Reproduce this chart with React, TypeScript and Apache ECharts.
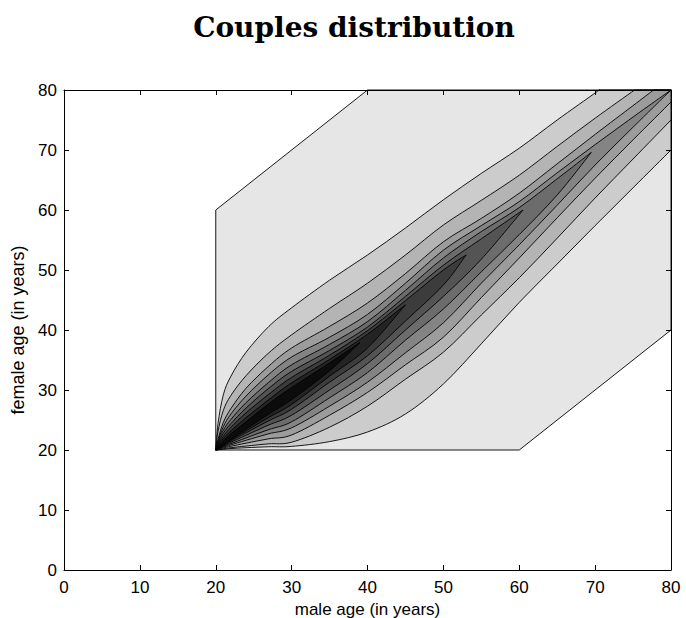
import React, { useEffect, useRef } from "react";
import * as echarts from "echarts";

const TITLE = "Couples distribution";
const X_NAME = "male age (in years)";
const Y_NAME = "female age (in years)";
const AXIS_MIN = 0;
const AXIS_MAX = 80;
const AXIS_STEP = 10;

// domain (lowest level) polygon: [male, female]
const DOMAIN: number[][] = [[20, 20], [60, 20], [80, 40], [80, 80], [40, 80], [20, 60]];

// contour lines, upper branch (from the (20,20) corner outwards)
const UPPER: number[][][] = [
  [[20, 20], [20.3, 24.4], [21, 29.2], [22, 32.3], [24, 36.3], [27, 40.6], [30, 43.7], [35, 48.3], [40, 52.5], [45, 57.0], [50, 61.7], [55, 66.1], [60, 70.3], [65, 75.0], [70, 79.5], [70.5, 80]],
  [[20, 20], [20.3, 23.1], [21, 26.6], [22, 29.1], [24, 32.4], [27, 36.2], [30, 39.2], [35, 43.6], [40, 47.8], [45, 52.5], [50, 57.5], [55, 61.6], [60, 65.8], [65, 70.6], [70, 75.3], [75.2, 80]],
  [[20, 20], [20.3, 21.8], [21, 24.6], [22, 26.9], [24, 30.3], [27, 34.0], [30, 37.0], [35, 40.6], [40, 44.5], [45, 49.4], [50, 54.7], [55, 58.6], [60, 62.8], [65, 67.7], [70, 72.6], [75, 77.4], [77.7, 80]],
  [[20, 20], [20.3, 21.5], [21, 23.9], [22, 26.0], [24, 29.0], [27, 32.6], [30, 35.5], [35, 38.8], [40, 42.6], [45, 47.8], [50, 53.3], [55, 57.4], [60, 61.4], [65, 66.2], [70, 70.9], [75, 75.5], [80, 80]],
  [[20, 20], [20.3, 21.3], [21, 23.3], [22, 25.1], [24, 27.9], [27, 31.3], [30, 34.2], [35, 37.6], [40, 41.4], [45, 46.6], [50, 52.0], [55, 56.4], [60, 60.4], [65, 65.2], [69.5, 69.6]],
  [[20, 20], [20.3, 21.0], [21, 22.8], [22, 24.4], [24, 27.0], [27, 30.3], [30, 33.1], [35, 36.6], [40, 40.5], [45, 45.6], [50, 50.8], [55, 55.2], [60.5, 60.0]],
  [[20, 20], [20.3, 20.8], [21, 22.3], [22, 23.8], [24, 26.2], [27, 29.3], [30, 32.1], [35, 35.8], [40, 39.9], [45, 44.9], [50, 50.0], [53, 52.5]],
  [[20, 20], [20.3, 20.7], [21, 21.9], [22, 23.2], [24, 25.4], [27, 28.4], [30, 31.2], [35, 35.1], [40, 39.3], [45, 44.2]],
  [[20, 20], [20.3, 20.5], [21, 21.5], [22, 22.7], [24, 24.7], [27, 27.7], [30, 30.4], [35, 34.5], [39, 37.9]],
];

// contour lines, lower branch (from the (20,20) corner outwards)
const LOWER: number[][][] = [
  [[20, 20], [21, 20.12], [22, 20.24], [24, 20.38], [27, 20.54], [30, 20.6], [35, 21.4], [40, 23.0], [45, 26.0], [50, 31.0], [55, 37.7], [60, 44.6], [65, 51.0], [70, 57.4], [75, 63.7], [80, 70.0]],
  [[20, 20], [21, 20.19], [22, 20.38], [24, 20.66], [27, 21.03], [30, 21.3], [35, 23.8], [40, 27.3], [45, 31.8], [50, 36.3], [55, 42.5], [60, 48.7], [65, 55.3], [70, 62.0], [75, 68.5], [80, 75.0]],
  [[20, 20], [21, 20.31], [22, 20.62], [24, 21.14], [27, 21.87], [30, 22.5], [35, 25.8], [40, 29.6], [45, 34.2], [50, 38.8], [55, 45.4], [60, 52.0], [65, 58.7], [70, 65.3], [75, 71.7], [80, 78.0]],
  [[20, 20], [21, 20.43], [22, 20.86], [24, 21.62], [27, 22.71], [30, 23.7], [35, 27.3], [40, 31.3], [45, 36.2], [50, 41.2], [55, 47.8], [60, 54.2], [65, 60.8], [70, 67.5], [75, 73.8], [80, 80]],
  [[20, 20], [21, 20.53], [22, 21.06], [24, 22.02], [27, 23.41], [30, 24.7], [35, 28.7], [40, 32.9], [45, 38.3], [50, 43.5], [55, 49.7], [60, 55.9], [65, 62.5], [69.5, 69.6]],
  [[20, 20], [21, 20.64], [22, 21.28], [24, 22.46], [27, 24.18], [30, 25.8], [35, 30.0], [40, 34.4], [45, 40.0], [50, 45.6], [55, 51.8], [60.5, 60.0]],
  [[20, 20], [21, 20.74], [22, 21.48], [24, 22.86], [27, 24.88], [30, 26.8], [35, 31.3], [40, 35.7], [45, 41.5], [50, 47.5], [53, 52.5]],
  [[20, 20], [21, 20.82], [22, 21.64], [24, 23.18], [27, 25.44], [30, 27.6], [35, 32.3], [40, 37.0], [45, 44.2]],
  [[20, 20], [21, 20.9], [22, 21.8], [24, 23.5], [27, 26.0], [30, 28.4], [35, 33.2], [39, 37.9]],
];

const FILLS = ["#e6e6e6", "#cccccc", "#b4b4b4", "#9c9c9c", "#848484", "#6c6c6c", "#545454", "#3c3c3c", "#242424", "#0c0c0c"];

// smooth open curve through pixel points (Catmull-Rom as cubic Beziers), continuing a path
function curveTo(pts: number[][]): string {
  let d = "";
  const n = pts.length;
  for (let i = 0; i < n - 1; i++) {
    const p0 = pts[Math.max(0, i - 1)];
    const p1 = pts[i];
    const p2 = pts[i + 1];
    const p3 = pts[Math.min(n - 1, i + 2)];
    const c1x = p1[0] + (p2[0] - p0[0]) / 6;
    const c1y = p1[1] + (p2[1] - p0[1]) / 6;
    const c2x = p2[0] - (p3[0] - p1[0]) / 6;
    const c2y = p2[1] - (p3[1] - p1[1]) / 6;
    d += ` C${c1x.toFixed(2)},${c1y.toFixed(2)} ${c2x.toFixed(2)},${c2y.toFixed(2)} ${p2[0].toFixed(2)},${p2[1].toFixed(2)}`;
  }
  return d;
}

export default function App() {
  const ref = useRef<HTMLDivElement>(null);
  useEffect(() => {
    document.body.style.margin = "0";
    if (!ref.current) return;
    const chart = echarts.init(ref.current, undefined, { renderer: "svg" });
    const axisFont = "Liberation Sans, Arial, Helvetica, sans-serif";
    const baseAxis = {
      type: "value",
      min: AXIS_MIN,
      max: AXIS_MAX,
      interval: AXIS_STEP,
      splitLine: { show: false },
      axisLine: { show: true, onZero: false, lineStyle: { color: "#000", width: 1 } },
      axisTick: { show: true, inside: true, length: 5, lineStyle: { color: "#000", width: 1 } },
      z: 5,
    };
    const levels = [-1].concat(UPPER.map((_, i) => i));
    chart.setOption({
      animation: false,
      backgroundColor: "#fff",
      title: {
        text: TITLE,
        left: 349,
        textAlign: "center",
        top: 8,
        textStyle: { fontFamily: "DejaVu Serif", fontWeight: "bold", fontSize: 28, color: "#000" },
      },
      grid: { left: 64, right: 15, top: 90, bottom: 48, outerBoundsMode: "none", containLabel: false },
      xAxis: [
        {
          ...baseAxis,
          position: "bottom",
          name: X_NAME,
          nameLocation: "middle",
          nameGap: 18,
          nameTextStyle: { color: "#000", fontSize: 17, fontFamily: axisFont },
          axisLabel: { color: "#000", fontSize: 17, fontFamily: axisFont, margin: 9 },
        },
        { ...baseAxis, position: "top", axisLabel: { show: false } },
      ],
      yAxis: [
        {
          ...baseAxis,
          position: "left",
          name: Y_NAME,
          nameLocation: "middle",
          nameGap: 37,
          nameTextStyle: { color: "#000", fontSize: 18, fontFamily: axisFont },
          axisLabel: { color: "#000", fontSize: 17, fontFamily: axisFont, margin: 7 },
        },
        { ...baseAxis, position: "right", axisLabel: { show: false } },
      ],
      series: [
        {
          type: "custom",
          xAxisIndex: 0,
          yAxisIndex: 0,
          z: 1,
          clip: false,
          data: levels.map((k) => [k + 1, k + 1]),
          renderItem: (params: any, api: any) => {
            const idx = api.value(0);
            const style = { fill: FILLS[idx], stroke: "#000", lineWidth: 0.9 };
            if (idx === 0) {
              return { type: "polygon", shape: { points: DOMAIN.map((p) => api.coord(p)) }, style };
            }
            const up = UPPER[idx - 1].map((p) => api.coord(p));
            const lo = LOWER[idx - 1].map((p) => api.coord(p)).reverse();
            const a = UPPER[idx - 1][UPPER[idx - 1].length - 1];
            const b = LOWER[idx - 1][LOWER[idx - 1].length - 1];
            let d = `M${up[0][0].toFixed(2)},${up[0][1].toFixed(2)}` + curveTo(up);
            if (a[0] !== b[0] || a[1] !== b[1]) {
              const c = api.coord([AXIS_MAX, AXIS_MAX]);
              d += ` L${c[0].toFixed(2)},${c[1].toFixed(2)} L${lo[0][0].toFixed(2)},${lo[0][1].toFixed(2)}`;
            }
            d += curveTo(lo) + " Z";
            return { type: "path", shape: { pathData: d }, style };
          },
        },
      ],
    });
    return () => chart.dispose();
  }, []);
  return <div ref={ref} style={{ width: 686, height: 618 }} />;
}
